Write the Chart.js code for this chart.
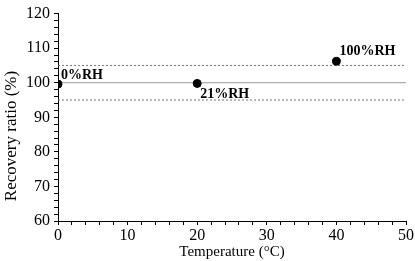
<!DOCTYPE html>
<html><head><meta charset="utf-8">
<script src="https://cdn.jsdelivr.net/npm/chart.js@4/dist/chart.umd.min.js"></script>
<style>html,body{margin:0;padding:0;background:#fff}#wrap{width:415px;height:261px}</style>
</head><body><div id="wrap"><canvas id="c"></canvas></div>
<script>
const temperatures = [0, 20, 40];
const recovery = [99.6, 99.8, 106.2];
const pointLabels = ["0%RH", "21%RH", "100%RH"];
const refLine = 100;
const upperBand = 105;
const lowerBand = 95;
const xRange = [0, 50];
const yRange = [60, 120];
const yTitle = "Recovery ratio (%)";
const xTitle = "Temperature (°C)";

const labelOffsets = [[3, -5], [3, 15], [3, -6]];

const labelPlugin = {
  id: 'pl',
  afterDatasetsDraw(chart) {
    const ctx = chart.ctx, xs = chart.scales.x, ys = chart.scales.y;
    ctx.save();
    ctx.font = 'bold 14px "Liberation Serif"';
    ctx.fillStyle = '#000';
    ctx.textBaseline = 'alphabetic';
    temperatures.forEach((t, i) => {
      ctx.fillText(pointLabels[i], xs.getPixelForValue(t) + labelOffsets[i][0], ys.getPixelForValue(recovery[i]) + labelOffsets[i][1]);
    });
    // y axis title
    ctx.font = '17px "Liberation Serif"';
    ctx.textAlign = 'center';
    ctx.textBaseline = 'middle';
    ctx.translate(12, 136);
    ctx.rotate(-Math.PI / 2);
    ctx.fillText(yTitle, 0, 0);
    ctx.restore();
  }
};

const hline = (v, dash, color) => ({
  type: 'line', data: [{x: xRange[0], y: v}, {x: xRange[1], y: v}],
  borderColor: color, borderWidth: 1, borderDash: dash, pointRadius: 0, showLine: true, order: 2
});

new Chart(document.getElementById('c'), {
  type: 'scatter',
  data: {
    datasets: [
      hline(refLine, [], '#999'),
      hline(upperBand, [2, 2], '#777'),
      hline(lowerBand, [2, 2], '#777'),
      { data: temperatures.map((t, i) => ({x: t, y: recovery[i]})), backgroundColor: '#000', borderColor: '#000', pointRadius: 4, order: 1 }
    ]
  },
  options: {
    responsive: true, maintainAspectRatio: false, animation: false,
    layout: { padding: { top: 11, right: 8, left: 0, bottom: 0 } },
    plugins: { legend: { display: false }, tooltip: { enabled: false } },
    scales: {
      x: {
        type: 'linear', min: xRange[0], max: xRange[1],
        border: { color: '#000', width: 1 },
        grid: { drawOnChartArea: false, tickLength: 4, color: '#000' },
        ticks: { stepSize: 2, padding: 1, color: '#000', font: { family: 'Liberation Serif', size: 16 }, autoSkip: false, maxRotation: 0,
          callback: v => v % 10 === 0 ? v : '' },
        title: { display: true, text: xTitle, color: '#000', font: { family: 'Liberation Serif', size: 15 }, padding: { top: 0, bottom: 0 } },
        afterFit: s => { s.height = 40; }
      },
      y: {
        type: 'linear', min: yRange[0], max: yRange[1],
        border: { color: '#000', width: 1 },
        grid: { drawOnChartArea: false, tickLength: 4, color: '#000' },
        ticks: { stepSize: 2, padding: 4, color: '#000', font: { family: 'Liberation Serif', size: 16 }, autoSkip: false,
          callback: v => v % 10 === 0 ? v : '' },
        title: { display: false },
        afterFit: s => { s.width = 58; }
      }
    }
  },
  plugins: [labelPlugin]
});
</script></body></html>
